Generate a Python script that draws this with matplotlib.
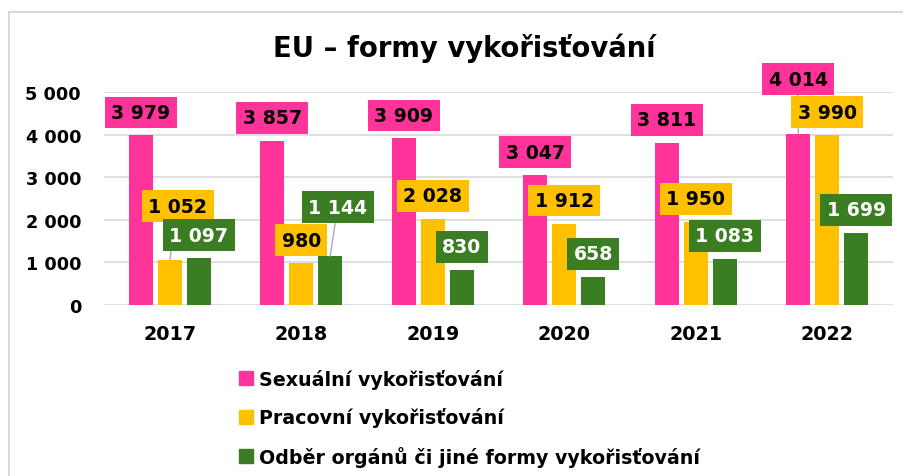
import matplotlib
matplotlib.use("Agg")
import matplotlib.pyplot as plt
from matplotlib.patches import Rectangle
import numpy as np

years = ["2017", "2018", "2019", "2020", "2021", "2022"]
sexualni = [3979, 3857, 3909, 3047, 3811, 4014]
pracovni = [1052, 980, 2028, 1912, 1950, 3990]
organy = [1097, 1144, 830, 658, 1083, 1699]
series_names = ["Sexuální vykořisťování", "Pracovní vykořisťování",
                "Odběr orgánů či jiné formy vykořisťování"]
title = "EU – formy vykořisťování"
yticks = [0, 1000, 2000, 3000, 4000, 5000]

colors = ["#FF3399", "#FFC000", "#3B7D23"]
text_colors = ["black", "black", "white"]
# special label offsets in pixels (dx, dy) for moved callouts
special_offsets = {(1, 0): (8, 54), (2, 1): (7.5, 49), (0, 5): (0, 55)}

def fmt(v):
    return f"{v:,}".replace(",", " ")

plt.rcParams['font.family'] = ['DejaVu Sans']
fig = plt.figure(figsize=(9.04, 4.77), dpi=100)
W, H = 904, 477
ax = fig.add_axes([104 / W, 1 - 306 / H, (893 - 104) / W, (306 - 93) / H])

x = np.arange(len(years))
bw = 0.18
step = 0.22
data = [sexualni, pracovni, organy]
for i, vals in enumerate(data):
    xs = x + (i - 1) * step
    ax.bar(xs, vals, width=bw, color=colors[i], zorder=3)
    for j, v in enumerate(vals):
        dx, dy = special_offsets.get((i, j), (0, 23))
        arrow = None
        if (i, j) in special_offsets:
            arrow = dict(arrowstyle='-', color='#A6A6A6', lw=0.9,
                         shrinkA=0, shrinkB=0)
        ax.annotate(fmt(v), xy=(xs[j], v), xytext=(dx * 0.72, dy * 0.72),
                    textcoords='offset points', ha='center', va='center',
                    fontsize=13.6, fontweight='bold', color=text_colors[i],
                    bbox=dict(boxstyle='square,pad=0.34', fc=colors[i], ec='none'),
                    arrowprops=arrow, zorder=5, annotation_clip=False)

ax.set_xlim(-0.5, len(years) - 0.5)
ax.set_ylim(0, 5000)
ax.set_yticks(yticks)
ax.set_yticklabels([fmt(t) for t in yticks], fontsize=12.7, fontweight='bold')
ax.set_xticks(x)
ax.set_xticklabels(years, fontsize=13.8, fontweight='bold')
ax.tick_params(axis='y', length=0, pad=16.5)
ax.tick_params(axis='x', length=0, pad=14)
ax.grid(axis='y', color='#D9D9D9', lw=1.2, zorder=0)
for s in ax.spines.values():
    s.set_visible(False)

fig.text(464 / W, 1 - 57 / H, title, ha='center', va='baseline',
         fontsize=19.8, fontweight='bold')

handles = [Rectangle((0, 0), 1, 1, color=c) for c in colors]
leg = fig.legend(handles, series_names, loc='upper left',
                 bbox_to_anchor=(239 / W, 1 - 370 / H), frameon=False,
                 prop=dict(size=13.7, weight='bold'), handlelength=0.74,
                 handleheight=0.74, handletextpad=0.32, labelspacing=0.97,
                 borderaxespad=0, borderpad=0)

frame = Rectangle((9 / W, -0.1), 1.2, 1 - 12.5 / H + 0.1, transform=fig.transFigure,
                  fill=False, ec='#D9D9D9', lw=1.5, clip_on=False)
fig.patches.append(frame)

fig.savefig("out.png", dpi=100)
